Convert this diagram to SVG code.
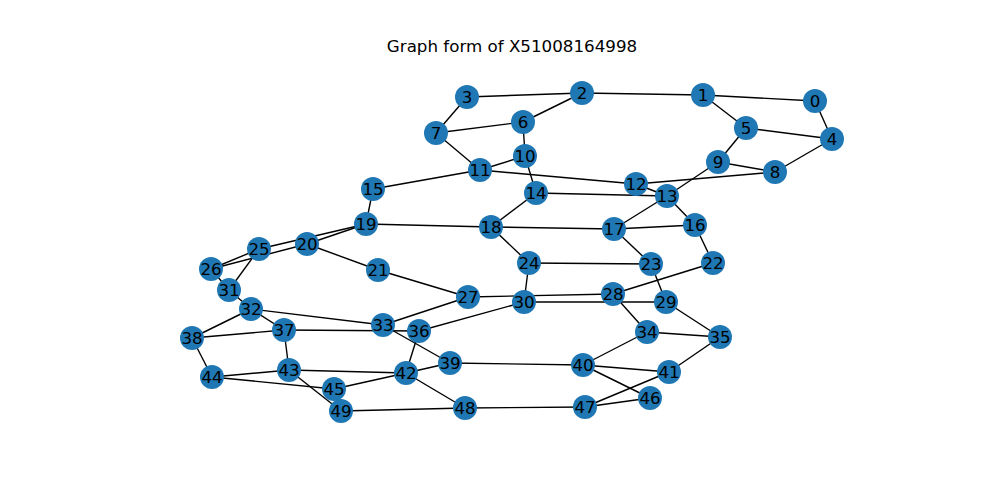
<svg xmlns="http://www.w3.org/2000/svg" width="1000" height="500" viewBox="0 0 1000 500">
  <style>
    .title { font-family: "DejaVu Sans", sans-serif; font-size: 16.7px; fill: #000; }
    .edges line { stroke: #000; stroke-width: 1.4; }
    .node circle { fill: #1f77b4; }
    .node text { font-family: "DejaVu Sans", sans-serif; font-size: 16.7px; fill: #000; text-anchor: middle; dominant-baseline: central; }
  </style>
  <rect width="1000" height="500" fill="#fff"/>
  <text class="title" x="512" y="52" text-anchor="middle">Graph form of X51008164998</text>

  <g id="edges" class="edges">
    <line x1="815" y1="101" x2="703" y2="95"/>
    <line x1="815" y1="101" x2="832" y2="139"/>
    <line x1="703" y1="95" x2="582" y2="93"/>
    <line x1="703" y1="95" x2="746" y2="128"/>
    <line x1="582" y1="93" x2="467" y2="97"/>
    <line x1="582" y1="93" x2="523" y2="122"/>
    <line x1="467" y1="97" x2="436" y2="133"/>
    <line x1="746" y1="128" x2="832" y2="139"/>
    <line x1="832" y1="139" x2="775" y2="172"/>
    <line x1="746" y1="128" x2="718" y2="162"/>
    <line x1="523" y1="122" x2="436" y2="133"/>
    <line x1="523" y1="122" x2="525" y2="156"/>
    <line x1="436" y1="133" x2="480" y2="170"/>
    <line x1="525" y1="156" x2="480" y2="170"/>
    <line x1="525" y1="156" x2="536" y2="193"/>
    <line x1="480" y1="170" x2="636" y2="184"/>
    <line x1="480" y1="170" x2="373" y2="189"/>
    <line x1="718" y1="162" x2="775" y2="172"/>
    <line x1="775" y1="172" x2="636" y2="184"/>
    <line x1="718" y1="162" x2="667" y2="196"/>
    <line x1="636" y1="184" x2="667" y2="196"/>
    <line x1="536" y1="193" x2="667" y2="196"/>
    <line x1="667" y1="196" x2="695" y2="225"/>
    <line x1="667" y1="196" x2="614" y2="229"/>
    <line x1="536" y1="193" x2="491" y2="227"/>
    <line x1="373" y1="189" x2="366" y2="224"/>
    <line x1="366" y1="224" x2="491" y2="227"/>
    <line x1="366" y1="224" x2="307" y2="244"/>
    <line x1="366" y1="224" x2="259" y2="249"/>
    <line x1="211" y1="269" x2="259" y2="249"/>
    <line x1="211" y1="269" x2="307" y2="244"/>
    <line x1="259" y1="249" x2="229" y2="290"/>
    <line x1="211" y1="269" x2="229" y2="290"/>
    <line x1="307" y1="244" x2="378" y2="270"/>
    <line x1="491" y1="227" x2="614" y2="229"/>
    <line x1="614" y1="229" x2="695" y2="225"/>
    <line x1="614" y1="229" x2="651" y2="264"/>
    <line x1="695" y1="225" x2="713" y2="263"/>
    <line x1="491" y1="227" x2="529" y2="263"/>
    <line x1="529" y1="263" x2="651" y2="264"/>
    <line x1="529" y1="263" x2="524" y2="302"/>
    <line x1="651" y1="264" x2="666" y2="302"/>
    <line x1="713" y1="263" x2="613" y2="294"/>
    <line x1="378" y1="270" x2="468" y2="297"/>
    <line x1="468" y1="297" x2="613" y2="294"/>
    <line x1="524" y1="302" x2="666" y2="302"/>
    <line x1="468" y1="297" x2="383" y2="325"/>
    <line x1="524" y1="302" x2="419" y2="331"/>
    <line x1="613" y1="294" x2="647" y2="332"/>
    <line x1="666" y1="302" x2="720" y2="337"/>
    <line x1="647" y1="332" x2="720" y2="337"/>
    <line x1="229" y1="290" x2="251" y2="309"/>
    <line x1="251" y1="309" x2="383" y2="325"/>
    <line x1="251" y1="309" x2="284" y2="330"/>
    <line x1="251" y1="309" x2="192" y2="338"/>
    <line x1="192" y1="338" x2="284" y2="330"/>
    <line x1="284" y1="330" x2="419" y2="331"/>
    <line x1="383" y1="325" x2="450" y2="363"/>
    <line x1="419" y1="331" x2="406" y2="373"/>
    <line x1="284" y1="330" x2="289" y2="370"/>
    <line x1="192" y1="338" x2="212" y2="377"/>
    <line x1="212" y1="377" x2="289" y2="370"/>
    <line x1="212" y1="377" x2="334" y2="389"/>
    <line x1="289" y1="370" x2="406" y2="373"/>
    <line x1="289" y1="370" x2="341" y2="411"/>
    <line x1="334" y1="389" x2="406" y2="373"/>
    <line x1="406" y1="373" x2="450" y2="363"/>
    <line x1="406" y1="373" x2="465" y2="408"/>
    <line x1="341" y1="411" x2="465" y2="408"/>
    <line x1="465" y1="408" x2="585" y2="407"/>
    <line x1="450" y1="363" x2="583" y2="365"/>
    <line x1="647" y1="332" x2="583" y2="365"/>
    <line x1="720" y1="337" x2="669" y2="372"/>
    <line x1="583" y1="365" x2="669" y2="372"/>
    <line x1="583" y1="365" x2="650" y2="398"/>
    <line x1="669" y1="372" x2="585" y2="407"/>
    <line x1="585" y1="407" x2="650" y2="398"/>
  </g>

  <g id="node-0" class="node"><circle cx="815" cy="101" r="12"/><text x="815" y="101">0</text></g>
  <g id="node-1" class="node"><circle cx="703" cy="95" r="12"/><text x="703" y="95">1</text></g>
  <g id="node-2" class="node"><circle cx="582" cy="93" r="12"/><text x="582" y="93">2</text></g>
  <g id="node-3" class="node"><circle cx="467" cy="97" r="12"/><text x="467" y="97">3</text></g>
  <g id="node-4" class="node"><circle cx="832" cy="139" r="12"/><text x="832" y="139">4</text></g>
  <g id="node-5" class="node"><circle cx="746" cy="128" r="12"/><text x="746" y="128">5</text></g>
  <g id="node-6" class="node"><circle cx="523" cy="122" r="12"/><text x="523" y="122">6</text></g>
  <g id="node-7" class="node"><circle cx="436" cy="133" r="12"/><text x="436" y="133">7</text></g>
  <g id="node-8" class="node"><circle cx="775" cy="172" r="12"/><text x="775" y="172">8</text></g>
  <g id="node-9" class="node"><circle cx="718" cy="162" r="12"/><text x="718" y="162">9</text></g>
  <g id="node-10" class="node"><circle cx="525" cy="156" r="12"/><text x="525" y="156">10</text></g>
  <g id="node-11" class="node"><circle cx="480" cy="170" r="12"/><text x="480" y="170">11</text></g>
  <g id="node-12" class="node"><circle cx="636" cy="184" r="12"/><text x="636" y="184">12</text></g>
  <g id="node-13" class="node"><circle cx="667" cy="196" r="12"/><text x="667" y="196">13</text></g>
  <g id="node-14" class="node"><circle cx="536" cy="193" r="12"/><text x="536" y="193">14</text></g>
  <g id="node-15" class="node"><circle cx="373" cy="189" r="12"/><text x="373" y="189">15</text></g>
  <g id="node-16" class="node"><circle cx="695" cy="225" r="12"/><text x="695" y="225">16</text></g>
  <g id="node-17" class="node"><circle cx="614" cy="229" r="12"/><text x="614" y="229">17</text></g>
  <g id="node-18" class="node"><circle cx="491" cy="227" r="12"/><text x="491" y="227">18</text></g>
  <g id="node-19" class="node"><circle cx="366" cy="224" r="12"/><text x="366" y="224">19</text></g>
  <g id="node-20" class="node"><circle cx="307" cy="244" r="12"/><text x="307" y="244">20</text></g>
  <g id="node-21" class="node"><circle cx="378" cy="270" r="12"/><text x="378" y="270">21</text></g>
  <g id="node-22" class="node"><circle cx="713" cy="263" r="12"/><text x="713" y="263">22</text></g>
  <g id="node-23" class="node"><circle cx="651" cy="264" r="12"/><text x="651" y="264">23</text></g>
  <g id="node-24" class="node"><circle cx="529" cy="263" r="12"/><text x="529" y="263">24</text></g>
  <g id="node-25" class="node"><circle cx="259" cy="249" r="12"/><text x="259" y="249">25</text></g>
  <g id="node-26" class="node"><circle cx="211" cy="269" r="12"/><text x="211" y="269">26</text></g>
  <g id="node-27" class="node"><circle cx="468" cy="297" r="12"/><text x="468" y="297">27</text></g>
  <g id="node-28" class="node"><circle cx="613" cy="294" r="12"/><text x="613" y="294">28</text></g>
  <g id="node-29" class="node"><circle cx="666" cy="302" r="12"/><text x="666" y="302">29</text></g>
  <g id="node-30" class="node"><circle cx="524" cy="302" r="12"/><text x="524" y="302">30</text></g>
  <g id="node-31" class="node"><circle cx="229" cy="290" r="12"/><text x="229" y="290">31</text></g>
  <g id="node-32" class="node"><circle cx="251" cy="309" r="12"/><text x="251" y="309">32</text></g>
  <g id="node-33" class="node"><circle cx="383" cy="325" r="12"/><text x="383" y="325">33</text></g>
  <g id="node-34" class="node"><circle cx="647" cy="332" r="12"/><text x="647" y="332">34</text></g>
  <g id="node-35" class="node"><circle cx="720" cy="337" r="12"/><text x="720" y="337">35</text></g>
  <g id="node-36" class="node"><circle cx="419" cy="331" r="12"/><text x="419" y="331">36</text></g>
  <g id="node-37" class="node"><circle cx="284" cy="330" r="12"/><text x="284" y="330">37</text></g>
  <g id="node-38" class="node"><circle cx="192" cy="338" r="12"/><text x="192" y="338">38</text></g>
  <g id="node-39" class="node"><circle cx="450" cy="363" r="12"/><text x="450" y="363">39</text></g>
  <g id="node-40" class="node"><circle cx="583" cy="365" r="12"/><text x="583" y="365">40</text></g>
  <g id="node-41" class="node"><circle cx="669" cy="372" r="12"/><text x="669" y="372">41</text></g>
  <g id="node-42" class="node"><circle cx="406" cy="373" r="12"/><text x="406" y="373">42</text></g>
  <g id="node-43" class="node"><circle cx="289" cy="370" r="12"/><text x="289" y="370">43</text></g>
  <g id="node-44" class="node"><circle cx="212" cy="377" r="12"/><text x="212" y="377">44</text></g>
  <g id="node-45" class="node"><circle cx="334" cy="389" r="12"/><text x="334" y="389">45</text></g>
  <g id="node-46" class="node"><circle cx="650" cy="398" r="12"/><text x="650" y="398">46</text></g>
  <g id="node-47" class="node"><circle cx="585" cy="407" r="12"/><text x="585" y="407">47</text></g>
  <g id="node-48" class="node"><circle cx="465" cy="408" r="12"/><text x="465" y="408">48</text></g>
  <g id="node-49" class="node"><circle cx="341" cy="411" r="12"/><text x="341" y="411">49</text></g>
</svg>
